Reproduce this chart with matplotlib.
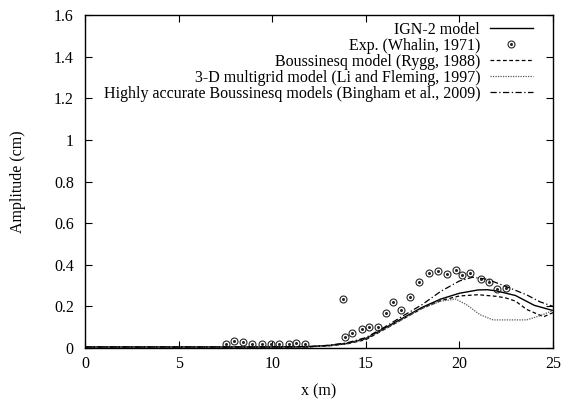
import matplotlib
matplotlib.use("Agg")
import matplotlib.pyplot as plt

plt.rcParams['font.family'] = ['Liberation Serif', 'DejaVu Serif']
plt.rcParams['font.size'] = 11.5

# IGN-2 model
x_ign = [0, 5, 10, 12, 13, 14, 15, 16, 17, 18, 19, 20, 21, 21.5, 22, 23, 24, 25]
y_ign = [0.005, 0.005, 0.005, 0.007, 0.012, 0.022, 0.045, 0.095, 0.145, 0.195,
         0.235, 0.263, 0.279, 0.280, 0.274, 0.252, 0.205, 0.18]

# Exp. (Whalin, 1971)
x_exp = [7.53, 7.98, 8.46, 8.94, 9.44, 9.92, 10.38, 10.88, 11.27, 11.77,
         13.77, 13.89, 14.28, 14.78, 15.17, 15.67, 16.08, 16.47, 16.86, 17.36,
         17.84, 18.38, 18.87, 19.32, 19.80, 20.16, 20.58, 21.14, 21.56, 22.01, 22.47]
y_exp = [0.019, 0.032, 0.029, 0.018, 0.018, 0.018, 0.018, 0.018, 0.026, 0.018,
         0.234, 0.054, 0.071, 0.090, 0.102, 0.102, 0.167, 0.221, 0.183, 0.244,
         0.319, 0.359, 0.370, 0.356, 0.375, 0.351, 0.359, 0.330, 0.317, 0.285, 0.290]

# Boussinesq model (Rygg, 1988)
x_rygg = [0, 5, 10, 12, 13, 14, 15, 16, 17, 18, 19, 20, 21, 22, 22.5, 23, 23.6, 24.5, 25]
y_rygg = [0.005, 0.005, 0.005, 0.006, 0.010, 0.020, 0.040, 0.090, 0.140, 0.190,
          0.228, 0.250, 0.256, 0.248, 0.240, 0.225, 0.185, 0.150, 0.170]

# 3-D multigrid model (Li and Fleming, 1997)
x_li = [0, 5, 10, 12, 13, 14, 15, 16, 17, 18, 19, 19.8, 20.4, 21.1, 21.8, 23.6, 24.3, 25]
y_li = [0.005, 0.005, 0.005, 0.006, 0.010, 0.020, 0.045, 0.090, 0.140, 0.190,
        0.225, 0.235, 0.207, 0.160, 0.135, 0.135, 0.155, 0.180]

# Highly accurate Boussinesq models (Bingham et al., 2009)
x_bing = [0, 5, 10, 12, 13, 14, 15, 16, 17, 18, 19, 20, 20.7, 21.5, 22.5, 23.6, 24.3, 25]
y_bing = [0.005, 0.005, 0.005, 0.007, 0.013, 0.025, 0.050, 0.100, 0.155, 0.208,
          0.272, 0.322, 0.340, 0.330, 0.295, 0.255, 0.222, 0.200]

fig = plt.figure(figsize=(5.62, 4.0), dpi=100)
ax = fig.add_axes([0.1512, 0.13, 0.8328, 0.8325])

h1, = ax.plot(x_ign, y_ign, color='black', lw=1.0)
h2a, = ax.plot(x_exp, y_exp, ls='none', marker='o', ms=5, mfc='none', mec='0.15', mew=0.8)
h2b, = ax.plot(x_exp, y_exp, ls='none', marker='o', ms=1.2, color='0.15')
h3, = ax.plot(x_rygg, y_rygg, color='black', lw=0.9, ls=(0, (3, 2)))
h4, = ax.plot(x_li, y_li, color='0.35', lw=0.9, ls=(0, (1, 1)))
h5, = ax.plot(x_bing, y_bing, color='black', lw=0.9, ls=(0, (5, 2, 1, 2)))

ax.legend([h1, (h2a, h2b), h3, h4, h5],
          ['IGN-2 model', 'Exp. (Whalin, 1971)', 'Boussinesq model (Rygg, 1988)',
           '3-D multigrid model (Li and Fleming, 1997)',
           'Highly accurate Boussinesq models (Bingham et al., 2009)'],
          loc='upper right', bbox_to_anchor=(0.957, 0.979), markerfirst=False,
          frameon=False, handlelength=2.7, labelspacing=0.0, borderaxespad=0,
          borderpad=0, handletextpad=0.6)

ax.set_xlim(0, 25)
ax.set_ylim(0, 1.6)
ax.set_xticks([0, 5, 10, 15, 20, 25])
ax.set_yticks([0, 0.2, 0.4, 0.6, 0.8, 1.0, 1.2, 1.4, 1.6])
ax.set_yticklabels(['0', '0.2', '0.4', '0.6', '0.8', '1', '1.2', '1.4', '1.6'])
ax.tick_params(direction='in', top=True, right=True, length=5, width=0.8)
ax.tick_params(axis='y', pad=8)
ax.tick_params(axis='x', pad=6)
for s in ax.spines.values():
    s.set_linewidth(1.0)

ax.set_xlabel('x (m)')
ax.set_ylabel('Amplitude (cm)')
ax.xaxis.set_label_coords(0.5, -0.105)
ax.yaxis.set_label_coords(-0.126, 0.5)

fig.savefig('out.png', dpi=100)
